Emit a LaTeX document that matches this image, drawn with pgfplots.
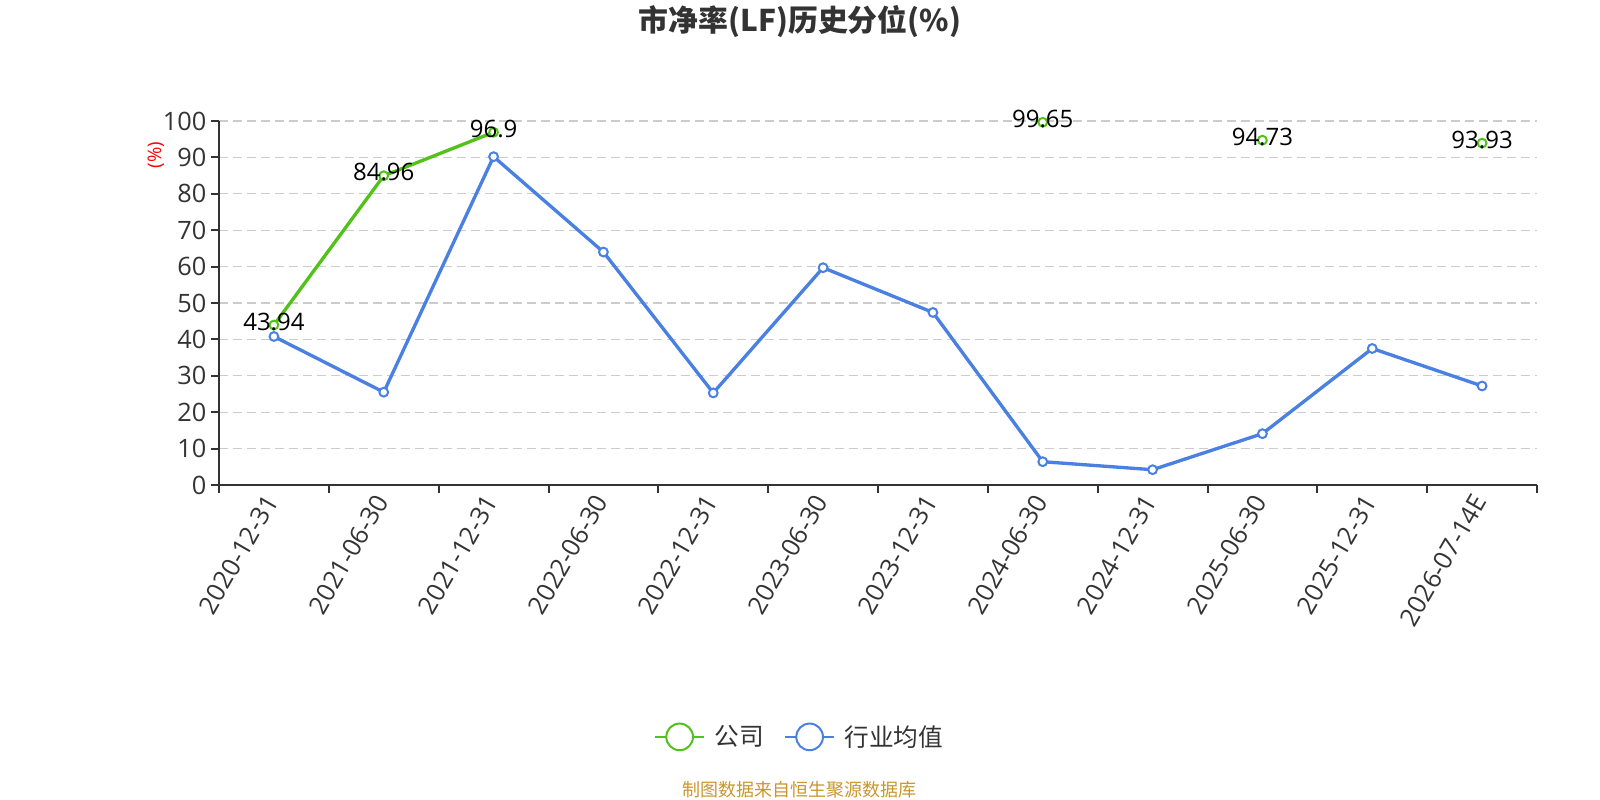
\documentclass[border=0pt]{standalone}
\usepackage{pgfplots}
\pgfplotsset{compat=1.18}
\usepackage{fontspec}
\setmainfont{Open Sans}
\newfontfamily\cjk{Noto Sans CJK SC}
\definecolor{cgreen}{RGB}{82,194,26}
\definecolor{cblue}{RGB}{74,128,226}
\definecolor{axisgray}{RGB}{51,51,51}
\definecolor{gridgray}{RGB}{204,204,204}
\definecolor{srcgold}{RGB}{201,150,46}
\pgfplotstableread{
x y label
0 43.94 43.94
1 84.96 84.96
2 96.9 96.9
3 nan x
4 nan x
5 nan x
6 nan x
7 99.65 99.65
8 nan x
9 94.73 94.73
10 nan x
11 93.93 93.93
}\company
\pgfplotstableread{
x y
0 40.8
1 25.5
2 90.2
3 64.0
4 25.3
5 59.7
6 47.4
7 6.4
8 4.2
9 14.1
10 37.5
11 27.2
}\industry
\begin{document}
\begin{tikzpicture}
\path[use as bounding box] (0,0) rectangle (1200pt,600pt);
\begin{axis}[
 at={(164.25pt,236.25pt)}, anchor=south west,
 scale only axis, width=988.5pt, height=273pt,
 xmin=-0.5, xmax=11.5, ymin=0, ymax=100,
 axis x line*=bottom, axis y line*=left,
 axis line style={draw=axisgray, line width=1.5pt},
 xtick={0,...,11},
 xticklabels={2020-12-31,2021-06-30,2021-12-31,2022-06-30,2022-12-31,2023-06-30,2023-12-31,2024-06-30,2024-12-31,2025-06-30,2025-12-31,2026-07-14E},
 major x tick style={draw=none},
 minor xtick={-0.5,0.5,...,11.5},
 minor x tick style={draw=axisgray, line width=1.5pt},
 minor tick length=6pt,
 major tick length=6pt,
 tick align=outside,
 ytick={0,10,...,100},
 ytick style={draw=axisgray, line width=1.5pt},
 ymajorgrids,
 grid style={gridgray, line width=1pt, dash pattern=on 6.5pt off 4pt},
 tick label style={font=\fontsize{19}{21}\selectfont, text=axisgray},
 /pgf/number format/assume math mode=true,
 xticklabel style={rotate=60, anchor=east},
 clip=false,
 unbounded coords=jump,
 legend columns=2,
 legend style={at={(0.4408,-0.692)}, anchor=center, draw=none, fill=none,
   font=\cjk\fontsize{18.5}{20}\selectfont, text=axisgray,
   /tikz/every odd column/.append style={column sep=5pt},
   /tikz/every even column/.append style={column sep=13pt}},
 legend image code/.code={
   \draw[#1, line width=1.5pt] (0pt,0pt) -- (37pt,0pt);
   \draw[#1, line width=1.5pt, fill=white] (18.5pt,0pt) circle (10pt);
 },
]
\addplot[cgreen, line width=2.5pt, mark=*, mark size=3.3pt,
  mark options={fill=white, draw=cgreen, line width=1.5pt, solid},
  nodes near coords, point meta=explicit symbolic,
  every node near coord/.append style={font=\fontsize{18}{20}\selectfont, text=black, anchor=center, yshift=2.5pt}]
  table[x=x, y=y, meta=label] {\company};
\addlegendentry{公司}
\addplot[cblue, line width=2.5pt, mark=*, mark size=3.3pt,
  mark options={fill=white, draw=cblue, line width=1.5pt, solid}]
  table[x=x, y=y] {\industry};
\addlegendentry{行业均值}
\node[font=\cjk\bfseries\fontsize{22.4}{25}\selectfont, text=axisgray] at (rel axis cs:0.4408,1.272) {市净率(LF)历史分位(\%)};
\node[rotate=90, text=red, font=\fontsize{14}{16}\selectfont] at (rel axis cs:-0.048,0.9066) {(\%)};
\node[font=\cjk\fontsize{13.5}{16}\selectfont, text=srcgold] at (rel axis cs:0.4408,-0.838) {制图数据来自恒生聚源数据库};
\end{axis}
\end{tikzpicture}
\end{document}
